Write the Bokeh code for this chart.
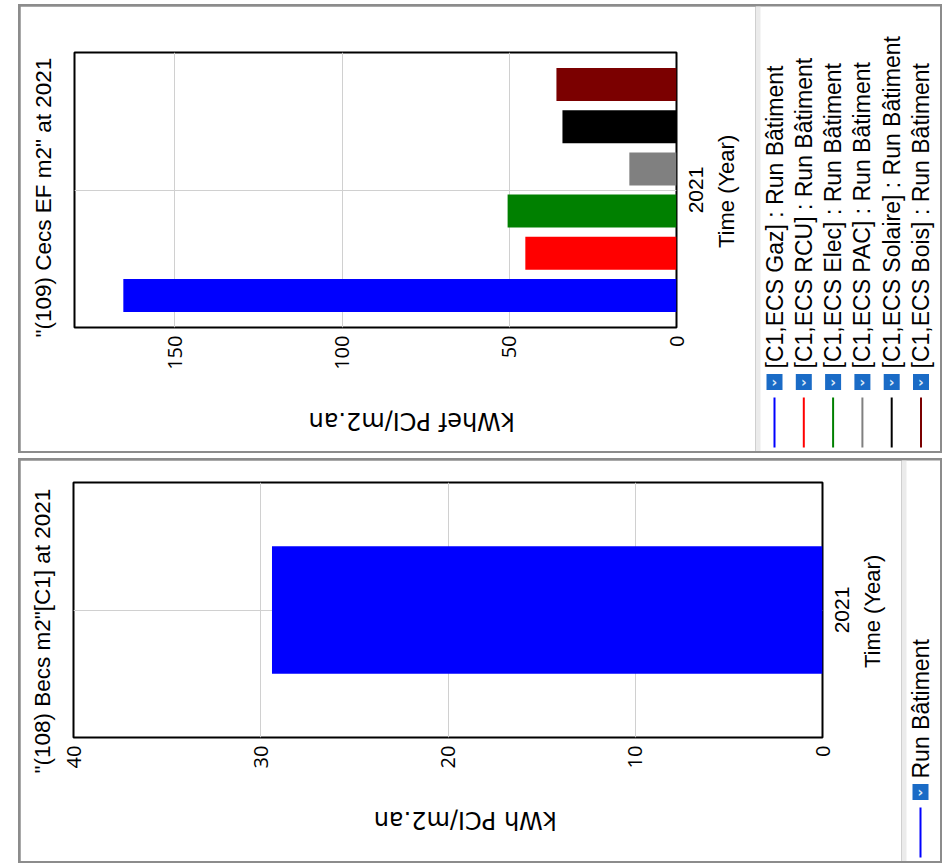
import math
from bokeh.plotting import figure
from bokeh.models import ColumnDataSource, Range1d, FixedTicker, LinearAxis, Title
from bokeh.layouts import row, column
from bokeh.core.properties import value
from bokeh.embed import file_html
from bokeh.resources import INLINE

# ---------------- data ----------------
years = ["2021"]

cecs_title = '"(109) Cecs EF m2" at 2021'
cecs_unit = "kWhef PCI/m2.an"
cecs_series = ["[C1,ECS Gaz]", "[C1,ECS RCU]", "[C1,ECS Elec]",
               "[C1,ECS PAC]", "[C1,ECS Solaire]", "[C1,ECS Bois]"]
cecs_values = [165.4, 45.2, 50.5, 14.1, 34.1, 35.9]
cecs_colors = ["#0000ff", "#ff0000", "#008000", "#808080", "#000000", "#7b0000"]
cecs_ticks = [0, 50, 100, 150]
cecs_max = 180

becs_title = '"(108) Becs m2"[C1] at 2021'
becs_unit = "kWh PCI/m2.an"
becs_series = ["Run Bâtiment"]
becs_values = [29.4]
becs_colors = ["#0000ff"]
becs_ticks = [0, 10, 20, 30, 40]
becs_max = 40

run_name = "Run Bâtiment"
time_label = "Time (Year)"

# --------------- text metrics (for centring rotated labels) ---------------
ARIAL = {"0": 556, "1": 556, "2": 556, "T": 611, "i": 222, "m": 833, "e": 556,
         " ": 278, "(": 333, ")": 333, "Y": 667, "a": 556, "r": 333}
DEJAVU = {"k": 579, "W": 989, "h": 634, "e": 615, "f": 352, " ": 318, "P": 603,
          "C": 698, "I": 295, "/": 337, "m": 974, "2": 636, ".": 318, "a": 613,
          "n": 634}


def text_w(s, size, table):
    return sum(table.get(ch, 600) for ch in s) * size / 1000.0


TICK_FONT = "Open Sans"
UNIT_FONT = "DejaVu Sans"
UNIT_SIZE = 24
CAT_FONT = "Liberation Sans"
CAT_SIZE = 21
TIME_SIZE = 22


def style_axis(ax, font, size, standoff, orient):
    ax.major_tick_out = 0
    ax.major_tick_in = 0
    ax.minor_tick_out = 0
    ax.minor_tick_in = 0
    ax.axis_line_color = None
    ax.major_label_standoff = standoff
    ax.major_label_text_font = font
    ax.major_label_text_font_size = f"{size}px"
    ax.major_label_text_color = "black"
    ax.major_label_orientation = orient


def bar_panel(title, unit, values, colors, ticks, vmax, geom, bar_h, pitch,
              title_offset, unit_center_frac):
    fl, ft, fw, fh, cw, ch = geom
    p = figure(frame_width=fw, frame_height=fh,
               x_range=Range1d(vmax, 0), y_range=Range1d(0, len(years)),
               output_backend="svg", toolbar_location=None,
               y_axis_location="right", x_axis_location="below",
               min_border_left=fl, min_border_right=cw - fl - fw,
               min_border_top=ft, min_border_bottom=ch - ft - fh)

    # small spacer panel between frame and title, then the title itself
    p.add_layout(Title(text="\u00a0", text_font_size="2px", standoff=10), "left")
    p.add_layout(Title(text=title, align="left", offset=title_offset,
                       text_font="Liberation Sans", text_font_size="22.5px",
                       text_font_style="normal", text_color="black"), "left")

    n = len(values)
    for i, (v, c) in enumerate(zip(values, colors)):
        off = (i - (n - 1) / 2) * pitch
        src = ColumnDataSource(dict(y=[k + 0.5 + off for k in range(len(years))],
                                    value=[v]))
        p.hbar(y="y", left=0, right="value", height=bar_h, source=src,
               fill_color=c, line_color=None)

    # value axis (bottom)
    xa = p.xaxis[0]
    xa.ticker = FixedTicker(ticks=ticks)
    style_axis(xa, TICK_FONT, 20, 8, math.pi / 2)
    p.xgrid[0].ticker = FixedTicker(ticks=ticks)

    # unit label: an outer bottom axis with a single, upside-down label
    uw = text_w(unit, UNIT_SIZE, DEJAVU)
    anchor_px = unit_center_frac * fw - uw / 2.0
    u_tick = round(vmax - vmax * anchor_px / fw, 4)
    ua = LinearAxis(ticker=FixedTicker(ticks=[u_tick]),
                    major_label_overrides={u_tick: unit})
    style_axis(ua, UNIT_FONT, UNIT_SIZE, 48, math.pi)
    p.add_layout(ua, "below")

    # category axis (right): year labels centred on each category
    yw = text_w(years[0], CAT_SIZE, ARIAL)
    y_ticks = [round(k + 0.5 - (yw / 2.0) / fh, 4) for k in range(len(years))]
    ya = p.yaxis[0]
    ya.ticker = FixedTicker(ticks=y_ticks)
    ya.major_label_overrides = {t: yr for t, yr in zip(y_ticks, years)}
    style_axis(ya, CAT_FONT, CAT_SIZE, 20, math.pi / 2)
    p.ygrid[0].ticker = FixedTicker(ticks=[k + 0.5 for k in range(len(years))])

    tw = text_w(time_label, TIME_SIZE, ARIAL)
    t_tick = round(len(years) / 2.0 - (tw / 2.0) / fh, 4)
    ta = LinearAxis(ticker=FixedTicker(ticks=[t_tick]),
                    major_label_overrides={t_tick: time_label})
    style_axis(ta, CAT_FONT, TIME_SIZE, 13, math.pi / 2)
    p.add_layout(ta, "right")

    p.xgrid.grid_line_color = "#d0d0d0"
    p.ygrid.grid_line_color = "#d0d0d0"
    p.outline_line_color = "black"
    p.outline_line_width = 2
    p.background_fill_color = "white"
    p.border_fill_color = "white"
    return p


def legend_panel(labels, colors, width, height):
    L = figure(width=width, height=height,
               x_range=Range1d(0, width), y_range=Range1d(0, height),
               output_backend="svg", toolbar_location=None, min_border=0,
               x_axis_type=None, y_axis_type=None)
    L.outline_line_color = None
    L.border_fill_color = "white"
    L.quad(left=0, right=5, bottom=0, top=height, fill_color="#ebebeb", line_color=None)
    xs = [19 + 29.3 * i for i in range(len(labels))]
    L.segment(x0=xs, y0=[4] * len(xs), x1=xs, y1=[54] * len(xs),
              line_color=colors, line_width=2)
    L.rect(x=xs, y=[69.5] * len(xs), width=16, height=16,
           fill_color="#1a6bc6", line_color=None)
    L.text(x=xs, y=[69.5] * len(xs), text=["›"] * len(xs),
           text_align="center", text_baseline="middle",
           text_color="#dce9f8", text_font=value("DejaVu Sans"),
           text_font_size="14px", text_font_style="bold")
    L.text(x=xs, y=[83] * len(xs), text=labels, angle=math.pi / 2,
           text_align="left", text_baseline="middle",
           text_font=value("Liberation Sans"), text_font_size="23px",
           text_color="black")
    return L


# geometry: frame left, frame top, frame width, frame height, canvas width, canvas height
p1 = bar_panel(cecs_title, cecs_unit, cecs_values, cecs_colors, cecs_ticks,
               cecs_max, (54, 46, 602, 275, 735, 445), 0.12, 0.1535, -10, 0.56)
L1 = legend_panel([s + " : " + run_name for s in cecs_series], cecs_colors, 185, 445)

p2 = bar_panel(becs_title, becs_unit, becs_values, becs_colors, becs_ticks,
               becs_max, (53, 22, 749, 255, 881, 401), 0.5, 0.0, -36, 0.523)
L2 = legend_panel(becs_series, becs_colors, 39, 401)

p1.margin = (2, 0, 2, 2)
L1.margin = (2, 2, 2, 0)
p2.margin = (2, 0, 2, 2)
L2.margin = (2, 2, 2, 0)

top = row(p1, column(L1), styles={"background-color": "#8c8c8c"})
bottom = row(p2, column(L2), styles={"background-color": "#8c8c8c"})
layout = column(top, bottom, spacing=5, margin=(4, 0, 0, 18))

open("out.html", "w").write(file_html(layout, INLINE))
